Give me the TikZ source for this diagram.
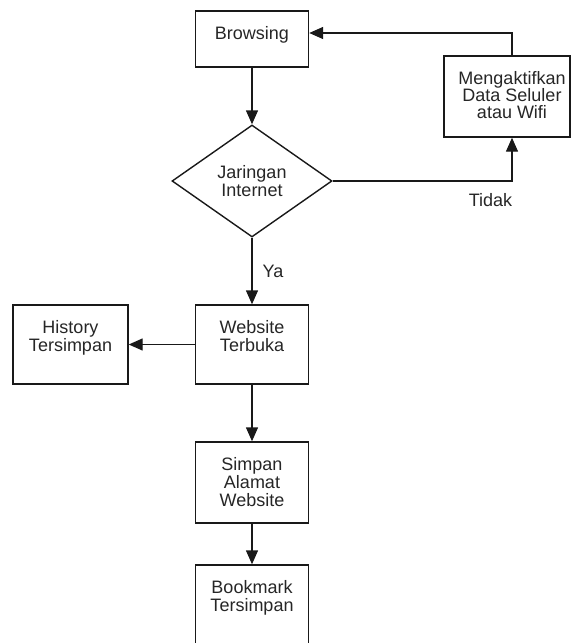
\documentclass[tikz,border=0pt]{standalone}
\usepackage{fontspec}
\setmainfont{Liberation Sans}
\usetikzlibrary{shapes.geometric,arrows.meta}

\begin{document}
\begin{tikzpicture}[x=1pt,y=-1pt,
  font=\fontsize{18}{18}\selectfont,
  box/.style={draw=black!90, line width=1.4pt, minimum width=#1, inner sep=0pt},
  box/.default=113pt,
  boxtxt/.style={anchor=north, yshift=-16pt, inner sep=0pt, align=center, text=black!85},
  arr/.style={-{Triangle[length=14pt,width=12pt]}, line width=1.4pt, draw=black!90}]

  % Frame
  \useasboundingbox (0,0) rectangle (571,643);
  \clip (0,0) rectangle (571,643);

  % Boxes
  \node[box, minimum height=56pt, label={[boxtxt]north:Browsing}] (browsing) at (252,39) {};
  \node[diamond, draw=black!90, line width=1.4pt, minimum width=160pt, minimum height=112pt,
    inner sep=0pt, align=center, text=black!85] (jaringan) at (252,181) {Jaringan\\Internet};
  \node[box=126pt, minimum height=81pt,
    label={[boxtxt, xshift=5pt, font=\fontsize{18}{17}\selectfont]north:Mengaktifkan\\Data Seluler\\atau Wifi}] (aktif) at (507,96.5) {};
  \node[box, minimum height=79pt, label={[boxtxt]north:Website\\Terbuka}] (website) at (252,344.5) {};
  \node[box=115pt, minimum height=79pt, label={[boxtxt]north:History\\Tersimpan}] (history) at (70.5,344.5) {};
  \node[box, minimum height=81pt, label={[boxtxt]north:Simpan\\Alamat\\Website}] (simpan) at (252,482.5) {};
  \node[box, minimum height=80pt, label={[boxtxt]north:Bookmark\\Tersimpan}] (bookmark) at (252,605) {};

  % Connectors
  \draw[arr] (browsing) -- (jaringan);
  \draw[arr] (jaringan.east) -| node[pos=0.44, below=12pt, inner sep=0pt, text=black!85] (tidak) {Tidak} ([xshift=5pt]aktif.south);
  \draw[arr] ([xshift=5pt]aktif.north) |- ([yshift=6pt]browsing.east);
  \draw[arr] (jaringan.south) -- node[midway, right=10pt, inner sep=0pt, text=black!85] (ya) {Ya} (website.north);
  \draw[arr] (website.west) -- (history.east);
  \draw[arr] (website) -- (simpan);
  \draw[arr] (simpan) -- (bookmark);
\end{tikzpicture}
\end{document}
